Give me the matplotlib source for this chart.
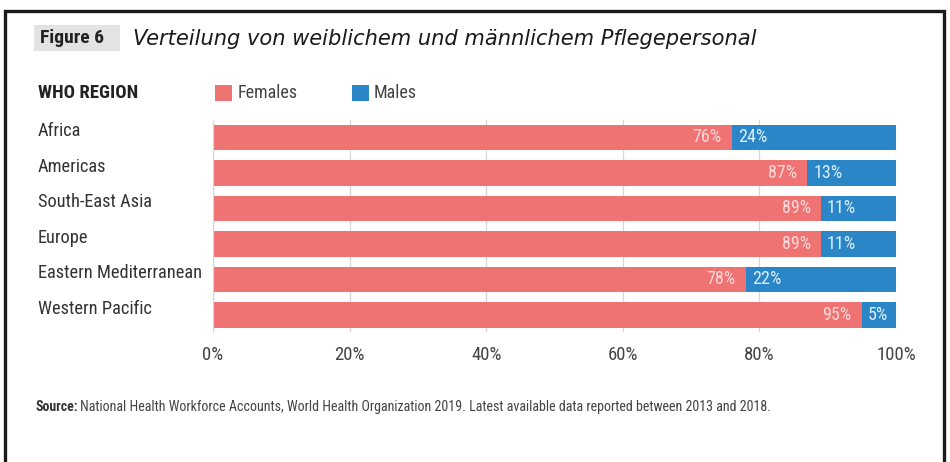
import matplotlib
matplotlib.use("Agg")
import matplotlib.pyplot as plt
from matplotlib.patches import Rectangle
from matplotlib import font_manager

regions = ["Africa", "Americas", "South-East Asia", "Europe",
           "Eastern Mediterranean", "Western Pacific"]
females = [76, 87, 89, 89, 78, 95]
males = [24, 13, 11, 11, 22, 5]
ticks = [0, 20, 40, 60, 80, 100]

pink = "#f07373"
blue = "#2a86c6"

names = {f.name for f in font_manager.fontManager.ttflist}
cond = "Roboto"
for cand in ["Roboto Condensed", "Liberation Sans Narrow", "Open Sans Condensed"]:
    if cand in names:
        cond = cand
        break
plt.rcParams["font.family"] = [cond, "DejaVu Sans"]

fig = plt.figure(figsize=(9.5, 4.62), dpi=100)
W, H = 950, 462

def fx(px):
    return px / W

def fy(py):
    return 1 - py / H

# outer frame
fig.patches.append(Rectangle((fx(5), fy(520)), fx(939), (520 - 11) / H,
                             transform=fig.transFigure, fill=False,
                             edgecolor="#1a1a1a", linewidth=2.4, clip_on=False))

# header
fig.patches.append(Rectangle((fx(34), fy(51)), fx(86), 26 / H,
                             transform=fig.transFigure, facecolor="#e3e3e3",
                             edgecolor="none"))
fig.text(fx(40), fy(38), "Figure 6", fontsize=14, fontweight="bold",
         color="#222222", va="center", ha="left")
fig.text(fx(133), fy(39), "Verteilung von weiblichem und männlichem Pflegepersonal",
         fontsize=15.1, style="italic", family="DejaVu Sans", color="#1a1a1a",
         va="center", ha="left")

# legend row
fig.text(fx(38), fy(93), "WHO REGION", fontsize=13.5, fontweight="bold",
         color="#222222", va="center", ha="left")
fig.patches.append(Rectangle((fx(215), fy(101)), fx(17), 16 / H,
                             transform=fig.transFigure, facecolor=pink,
                             edgecolor="none"))
fig.text(fx(238), fy(93), "Females", fontsize=13, color="#444444",
         va="center", ha="left")
fig.patches.append(Rectangle((fx(352), fy(101)), fx(17), 16 / H,
                             transform=fig.transFigure, facecolor=blue,
                             edgecolor="none"))
fig.text(fx(374), fy(93), "Males", fontsize=13, color="#444444",
         va="center", ha="left")

ax = fig.add_axes([fx(213), fy(332), fx(896 - 213), (332 - 120) / H])
y = list(range(len(regions)))
ax.barh(y, females, height=0.71, color=pink, zorder=2)
ax.barh(y, males, left=females, height=0.71, color=blue, zorder=2)

for i in y:
    ax.text(females[i] - 1.5, i, f"{females[i]}%", ha="right", va="center",
            fontsize=13, color="#fbd9d9", zorder=3)
    ax.text(females[i] + 0.9, i, f"{males[i]}%", ha="left", va="center",
            fontsize=13, color="#dcefff", zorder=3)

ax.set_xlim(0, 100)
ax.set_ylim(len(regions) - 0.52, -0.49)
ax.set_xticks(ticks)
ax.set_xticklabels([f"{t}%" for t in ticks], fontsize=13.5, color="#444444")
ax.tick_params(axis="x", length=0, pad=10)
ax.set_yticks([])
for s in ["top", "right", "bottom"]:
    ax.spines[s].set_visible(False)
ax.spines["left"].set_color("#d6d6d6")
ax.grid(axis="x", color="#d6d6d6", linewidth=0.9, zorder=0)
ax.set_axisbelow(True)

for i, r in enumerate(regions):
    fig.text(fx(38), fy(131 + 35.5 * i), r, fontsize=13.2, color="#333333",
             va="center", ha="left")

fig.text(fx(35), fy(407), "Source:", fontsize=10, fontweight="bold",
         color="#333333", va="center", ha="left")
fig.text(fx(80), fy(407),
         "National Health Workforce Accounts, World Health Organization 2019. "
         "Latest available data reported between 2013 and 2018.",
         fontsize=10.1, color="#444444", va="center", ha="left")

fig.savefig("out.png", dpi=100, facecolor="white")
